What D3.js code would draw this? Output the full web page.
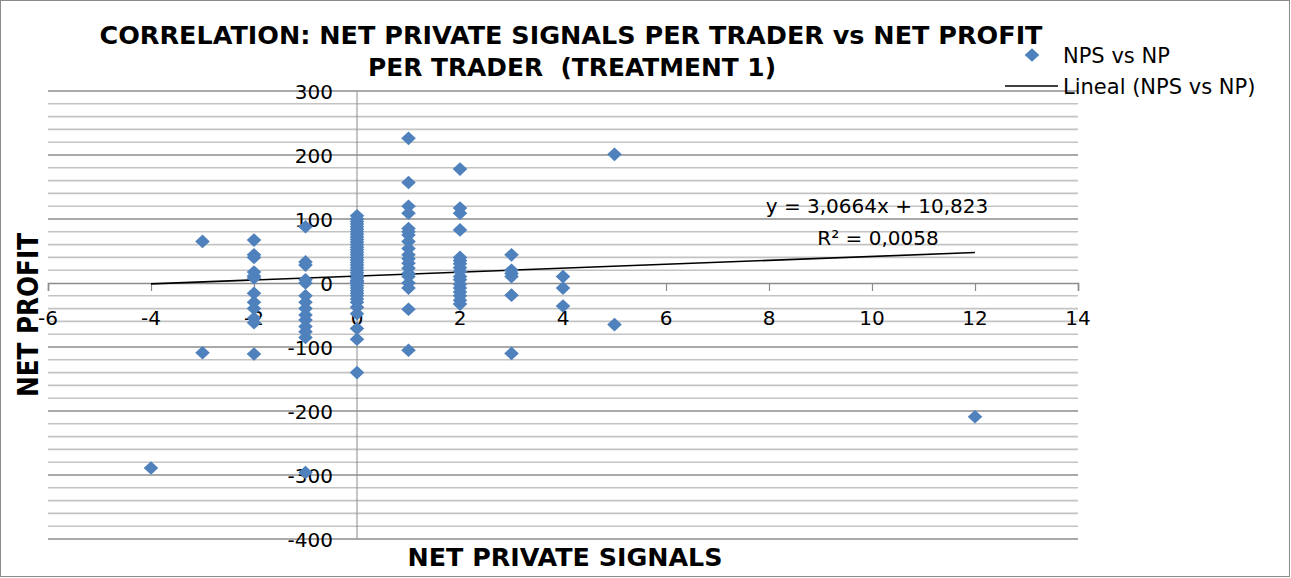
<!DOCTYPE html>
<html>
<head>
<meta charset="utf-8">
<script src="https://cdn.jsdelivr.net/npm/d3@7"></script>
<style>
  html, body { margin: 0; padding: 0; background: #ffffff; }
  svg { display: block; }
</style>
</head>
<body>
<svg id="chart" width="1291" height="578"></svg>
<script>
// Net private signals per trader (x) and the net profits observed at each level (y)
const signalLevels = [-4, -3, -2, -1, 0, 1, 2, 3, 4, 5, 12];
const profitGroups = [
  [-289],
  [65, -109],
  [67, 44, 40, 17, 11, 8, -16, -30, -40, -55, -62, -111],
  [88, 33, 28, 5, 0, -20, -30, -40, -50, -58, -68, -76, -85, -296],
  [105, 100, 96, 92, 88, 84, 80, 76, 72, 68, 64, 60, 56, 52, 48, 44, 40, 36, 32, 28, 24, 20,
   16, 12, 8, 4, 2, 0, -4, -8, -12, -16, -20, -25, -30, -38, -48, -71, -88, -140],
  [226, 157, 120, 109, 85, 80, 75, 65, 54, 44, 38, 31, 23, 15, 10, 0, -8, -41, -105],
  [178, 117, 109, 83, 40, 35, 30, 24, 18, 10, 5, -2, -8, -14, -20, -27, -33],
  [44, 20, 15, 10, -19, -110],
  [10, -8, -36],
  [201, -65],
  [-209]
];

// Linear trend fitted to the series
const trendSlope = 3.0664;
const trendIntercept = 10.823;
const trendR2 = 0.0058;

const xTicks = [-6, -4, -2, 0, 2, 4, 6, 8, 10, 12, 14];
const yTicks = [300, 200, 100, 0, -100, -200, -300, -400];

const titleLines = ["CORRELATION: NET PRIVATE SIGNALS PER TRADER vs NET PROFIT", "PER TRADER  (TREATMENT 1)"];
const xTitle = "NET PRIVATE SIGNALS";
const yTitle = "NET PROFIT";
const seriesName = "NPS vs NP";
const trendName = "Lineal (NPS vs NP)";

const points = signalLevels.flatMap((s, i) => profitGroups[i].map(p => ({ x: s, y: p })));

const svg = d3.select("#chart");
const W = 1291, H = 578;
const blue = "#4f81bd";
const tickFont = "'DejaVu Sans', sans-serif";

svg.append("rect").attr("width", W).attr("height", H).attr("fill", "#fff");
svg.append("rect")
  .attr("x", 0.5).attr("y", 0.5).attr("width", W - 2).attr("height", H - 2)
  .attr("fill", "none").attr("stroke", "#8a8a8a").attr("stroke-width", 1);

const x = d3.scaleLinear().domain([-6, 14]).range([48, 1078]);
const y = d3.scaleLinear().domain([-400, 300]).range([539, 91]);

// Horizontal gridlines: minor every 20, major every 100
const gridVals = d3.range(-400, 301, 20);
svg.append("g").selectAll("line").data(gridVals.filter(v => v % 100 !== 0)).join("line")
  .attr("x1", x(-6)).attr("x2", x(14))
  .attr("y1", d => y(d)).attr("y2", d => y(d))
  .attr("stroke", "#c3c3c3").attr("stroke-width", 1.6);
svg.append("g").selectAll("line").data(gridVals.filter(v => v % 100 === 0 && v !== 0)).join("line")
  .attr("x1", x(-6)).attr("x2", x(14))
  .attr("y1", d => y(d)).attr("y2", d => y(d))
  .attr("stroke", "#8c8c8c").attr("stroke-width", 1.6);

// Vertical value axis at x = 0
svg.append("line")
  .attr("x1", x(0)).attr("x2", x(0)).attr("y1", y(300)).attr("y2", y(-400))
  .attr("stroke", "#8c8c8c").attr("stroke-width", 1);

// Horizontal category axis at y = 0 with tick marks
const xAxis = d3.axisBottom(x).tickValues(xTicks).tickSize(8).tickFormat("");
const gx = svg.append("g").attr("transform", `translate(0,${y(0)})`).call(xAxis);
gx.select(".domain").attr("stroke", "#8c8c8c").attr("stroke-width", 1.6);
gx.selectAll(".tick line").attr("stroke", "#8c8c8c").attr("stroke-width", 1.2);

// Tick labels
svg.append("g").selectAll("text").data(xTicks).join("text")
  .attr("x", d => x(d)).attr("y", 325)
  .attr("text-anchor", "middle")
  .attr("font-family", tickFont).attr("font-size", 20).attr("fill", "#000")
  .text(d => d);

svg.append("g").selectAll("text").data(yTicks).join("text")
  .attr("x", 333).attr("y", d => y(d) + 7.5)
  .attr("text-anchor", "end")
  .attr("font-family", tickFont).attr("font-size", 20).attr("fill", "#000")
  .text(d => d);

// Trend line over the observed signal range
const xr = d3.extent(points, d => d.x);
svg.append("line")
  .attr("x1", x(xr[0])).attr("y1", y(trendSlope * xr[0] + trendIntercept))
  .attr("x2", x(xr[1])).attr("y2", y(trendSlope * xr[1] + trendIntercept))
  .attr("stroke", "#000").attr("stroke-width", 1.6);

// Diamond markers
const diamond = (cx, cy, hw, hh) => `M${cx},${cy - hh}L${cx + hw},${cy}L${cx},${cy + hh}L${cx - hw},${cy}Z`;
svg.append("g").selectAll("path").data(points).join("path")
  .attr("d", d => diamond(x(d.x), y(d.y), 7.3, 6.8))
  .attr("fill", blue);

// Trend equation and R²
const fmt = (v, n) => v.toFixed(n).replace(".", ",");
svg.append("text")
  .attr("x", 877).attr("y", 213).attr("text-anchor", "middle")
  .attr("font-family", tickFont).attr("font-size", 20)
  .text(`y = ${fmt(trendSlope, 4)}x + ${fmt(trendIntercept, 3)}`);
svg.append("text")
  .attr("x", 878).attr("y", 245).attr("text-anchor", "middle")
  .attr("font-family", tickFont).attr("font-size", 20)
  .text(`R² = ${fmt(trendR2, 4)}`);

// Title
const titleFont = "'DejaVu Sans', sans-serif";
svg.append("text")
  .attr("x", 571).attr("y", 44).attr("text-anchor", "middle")
  .attr("font-family", titleFont).attr("font-weight", "bold").attr("font-size", 25)
  .attr("textLength", 943).attr("lengthAdjust", "spacingAndGlyphs")
  .text(titleLines[0]);
svg.append("text")
  .attr("x", 572).attr("y", 76).attr("text-anchor", "middle")
  .attr("font-family", titleFont).attr("font-weight", "bold").attr("font-size", 25)
  .attr("textLength", 408).attr("lengthAdjust", "spacingAndGlyphs")
  .attr("xml:space", "preserve")
  .text(titleLines[1]);

// Axis titles
svg.append("text")
  .attr("x", 565).attr("y", 566).attr("text-anchor", "middle")
  .attr("font-family", titleFont).attr("font-weight", "bold").attr("font-size", 25)
  .attr("textLength", 315).attr("lengthAdjust", "spacingAndGlyphs")
  .text(xTitle);
svg.append("text")
  .attr("transform", `translate(38,315) rotate(-90)`)
  .attr("text-anchor", "middle")
  .attr("font-family", titleFont).attr("font-weight", "bold").attr("font-size", 28)
  .attr("textLength", 164).attr("lengthAdjust", "spacingAndGlyphs")
  .text(yTitle);

// Legend
svg.append("path").attr("d", diamond(1032, 55, 7.3, 6.8)).attr("fill", blue);
svg.append("text")
  .attr("x", 1063).attr("y", 63)
  .attr("font-family", tickFont).attr("font-size", 21)
  .text(seriesName);
svg.append("line")
  .attr("x1", 1005).attr("x2", 1058).attr("y1", 86).attr("y2", 86)
  .attr("stroke", "#000").attr("stroke-width", 1.6);
svg.append("text")
  .attr("x", 1063).attr("y", 94)
  .attr("font-family", tickFont).attr("font-size", 21)
  .text(trendName);
</script>
</body>
</html>
